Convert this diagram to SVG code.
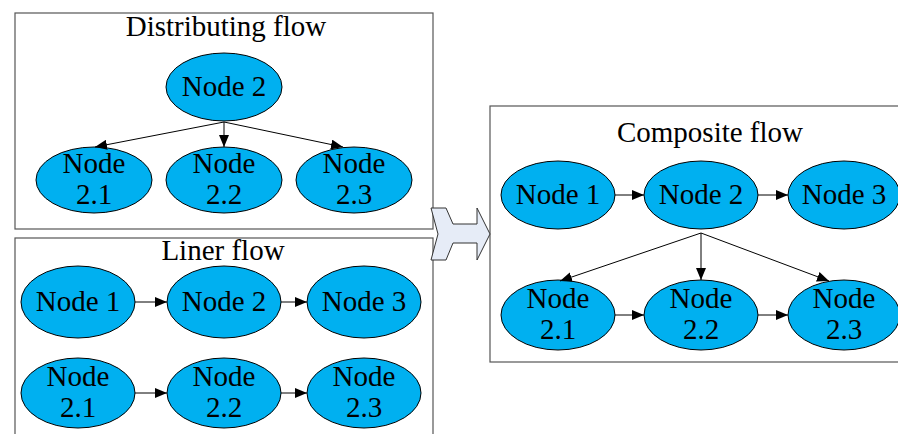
<svg xmlns="http://www.w3.org/2000/svg" width="898" height="434" viewBox="0 0 898 434">
<style>
.box{fill:#fff;stroke:#555;stroke-width:1.2}
.nd{fill:#00B0F0;stroke:#000;stroke-width:1}
.t{font-family:"Liberation Serif","Times New Roman",serif;font-size:29px;fill:#000;text-anchor:middle}
.e{stroke:#000;stroke-width:1;fill:none;marker-end:url(#ah)}
</style>
<defs>
<marker id="ah" viewBox="0 0 12 10" refX="12" refY="5" markerWidth="12" markerHeight="10" markerUnits="userSpaceOnUse" orient="auto">
<path d="M0,0 L12,5 L0,10 z" fill="#000"/>
</marker>
</defs>
<rect width="898" height="434" fill="#fff"/>
<g id="distributing-box"><rect class="box" x="15" y="13" width="418" height="216"/><text class="t" x="226" y="36">Distributing flow</text></g>
<g id="liner-box"><rect class="box" x="15" y="238" width="418" height="210"/><text class="t" x="223" y="260">Liner flow</text></g>
<g id="composite-box"><rect class="box" x="490" y="106" width="420" height="256"/><text class="t" x="710" y="142">Composite flow</text></g>
<g id="transform-arrow"><path d="M431,208 L446,208 L453,224 L477,224 L477,208 L490,234 L477,260 L477,243 L453,243 L446,260 L431,260 L438,234 Z" fill="#E6ECF7" stroke="#333" stroke-width="1"/></g>

<g id="d-n2"><ellipse class="nd" cx="224" cy="87" rx="58" ry="34"/><text class="t" x="224" y="96">Node 2</text></g>
<g id="d-n21"><ellipse class="nd" cx="94" cy="180" rx="58" ry="33"/><text class="t" x="94" y="173">Node</text><text class="t" x="94" y="204">2.1</text></g>
<g id="d-n22"><ellipse class="nd" cx="224" cy="180" rx="58" ry="33"/><text class="t" x="224" y="173">Node</text><text class="t" x="224" y="204">2.2</text></g>
<g id="d-n23"><ellipse class="nd" cx="354" cy="180" rx="58" ry="33"/><text class="t" x="354" y="173">Node</text><text class="t" x="354" y="204">2.3</text></g>

<g id="l-n1"><ellipse class="nd" cx="78" cy="302" rx="57" ry="36"/><text class="t" x="78" y="311">Node 1</text></g>
<g id="l-n2"><ellipse class="nd" cx="224" cy="302" rx="57" ry="36"/><text class="t" x="224" y="311">Node 2</text></g>
<g id="l-n3"><ellipse class="nd" cx="364" cy="302" rx="57" ry="36"/><text class="t" x="364" y="311">Node 3</text></g>
<g id="l-n21"><ellipse class="nd" cx="78" cy="393" rx="57" ry="35"/><text class="t" x="78" y="386">Node</text><text class="t" x="78" y="417">2.1</text></g>
<g id="l-n22"><ellipse class="nd" cx="224" cy="393" rx="57" ry="35"/><text class="t" x="224" y="386">Node</text><text class="t" x="224" y="417">2.2</text></g>
<g id="l-n23"><ellipse class="nd" cx="364" cy="393" rx="57" ry="35"/><text class="t" x="364" y="386">Node</text><text class="t" x="364" y="417">2.3</text></g>

<g id="c-n1"><ellipse class="nd" cx="558" cy="195" rx="57" ry="34"/><text class="t" x="558" y="204">Node 1</text></g>
<g id="c-n2"><ellipse class="nd" cx="701" cy="195" rx="57" ry="34"/><text class="t" x="701" y="204">Node 2</text></g>
<g id="c-n3"><ellipse class="nd" cx="844" cy="195" rx="56" ry="34"/><text class="t" x="844" y="204">Node 3</text></g>
<g id="c-n21"><ellipse class="nd" cx="558" cy="315" rx="57" ry="35"/><text class="t" x="558" y="308">Node</text><text class="t" x="558" y="339">2.1</text></g>
<g id="c-n22"><ellipse class="nd" cx="701" cy="315" rx="57" ry="35"/><text class="t" x="701" y="308">Node</text><text class="t" x="701" y="339">2.2</text></g>
<g id="c-n23"><ellipse class="nd" cx="844" cy="315" rx="56" ry="35"/><text class="t" x="844" y="308">Node</text><text class="t" x="844" y="339">2.3</text></g>

<g id="connectors">
<path class="e" d="M224,122 L95,147"/>
<path class="e" d="M224,122 L224,147"/>
<path class="e" d="M224,122 L343,147"/>
<path class="e" d="M135,302 L167,302"/>
<path class="e" d="M281,302 L307,302"/>
<path class="e" d="M135,393 L167,393"/>
<path class="e" d="M281,393 L307,393"/>
<path class="e" d="M615,195 L644,195"/>
<path class="e" d="M758,195 L788,195"/>
<path class="e" d="M701,233 L560,281"/>
<path class="e" d="M701,233 L701,280"/>
<path class="e" d="M701,233 L829,281"/>
<path class="e" d="M615,315 L644,315"/>
<path class="e" d="M758,315 L788,315"/>
</g>
</svg>
